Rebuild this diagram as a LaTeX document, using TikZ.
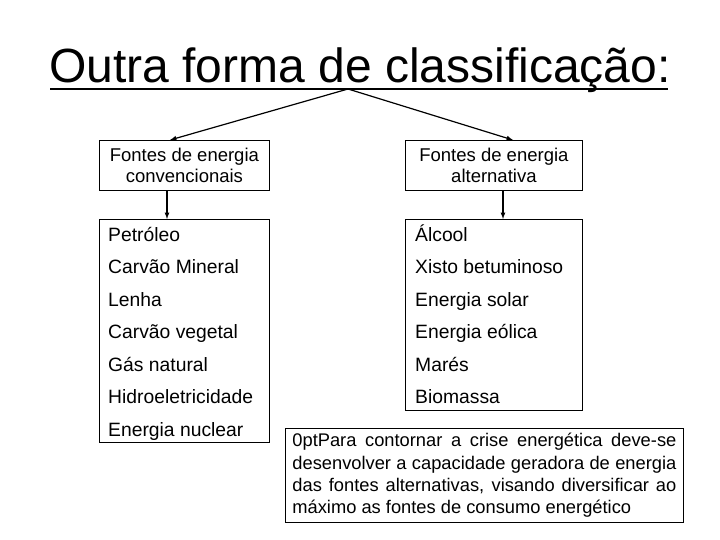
\documentclass[tikz,border=0pt]{standalone}
\usepackage{fontspec}
\setmainfont{Liberation Sans}
\begin{document}
\begin{tikzpicture}[x=1pt,y=-1pt,
  box/.style={draw,line width=0.8pt},
  arr/.style={-latex,line width=1.2pt},
  item/.style={anchor=base west,font=\fontsize{19.3}{22}\selectfont,inner sep=0pt}]
\useasboundingbox (0,0) rectangle (720,540);
\node[anchor=base,inner sep=0pt] (title) at (360,83) {\fontsize{48}{54}\selectfont Outra forma de classificação:};
\draw[line width=2.2pt] (50,89) -- (668,89);
\coordinate (apex) at (348,89);
\node[box,minimum width=170pt,minimum height=50pt,align=center,font=\fontsize{18.5}{21}\selectfont,anchor=north west] (conv) at (99,140) {Fontes de energia\\convencionais};
\node[box,minimum width=177pt,minimum height=50pt,align=center,font=\fontsize{18.5}{21}\selectfont,anchor=north west] (alt) at (405,140) {Fontes de energia\\alternativa};
\draw[arr] (apex) -- (170,140);
\draw[arr] (apex) -- (513,140);
\draw[box] (99,219) rectangle (269,442);
\draw[box] (405,219) rectangle (582,410);
\coordinate (lt) at (167,219);
\coordinate (rt) at (503,219);
\draw[arr] (conv.south -| lt) -- (lt);
\draw[arr] (alt.south -| rt) -- (rt);
\foreach \t [count=\i] in {Petróleo,Carvão Mineral,Lenha,Carvão vegetal,Gás natural,Hidroeletricidade,Energia nuclear}
  \node[item] (l\i) at (108,{241+32.5*(\i-1)}) {\t};
\foreach \t [count=\i] in {Álcool,Xisto betuminoso,Energia solar,Energia eólica,Marés,Biomassa}
  \node[item] (r\i) at (415,{241+32.5*(\i-1)}) {\t};
\node[box,anchor=north west,text width=384pt,inner xsep=7pt,inner ysep=4pt,align=justify,font=\fontsize{18.3}{22.3}\selectfont\hyphenpenalty=10000\exhyphenpenalty=10000,minimum height=94pt] (note) at (285,428)
 {Para contornar a crise energética deve-se desenvolver a capacidade geradora de energia das fontes alternativas, visando diversificar ao máximo as fontes de consumo energético};
\end{tikzpicture}
\end{document}
